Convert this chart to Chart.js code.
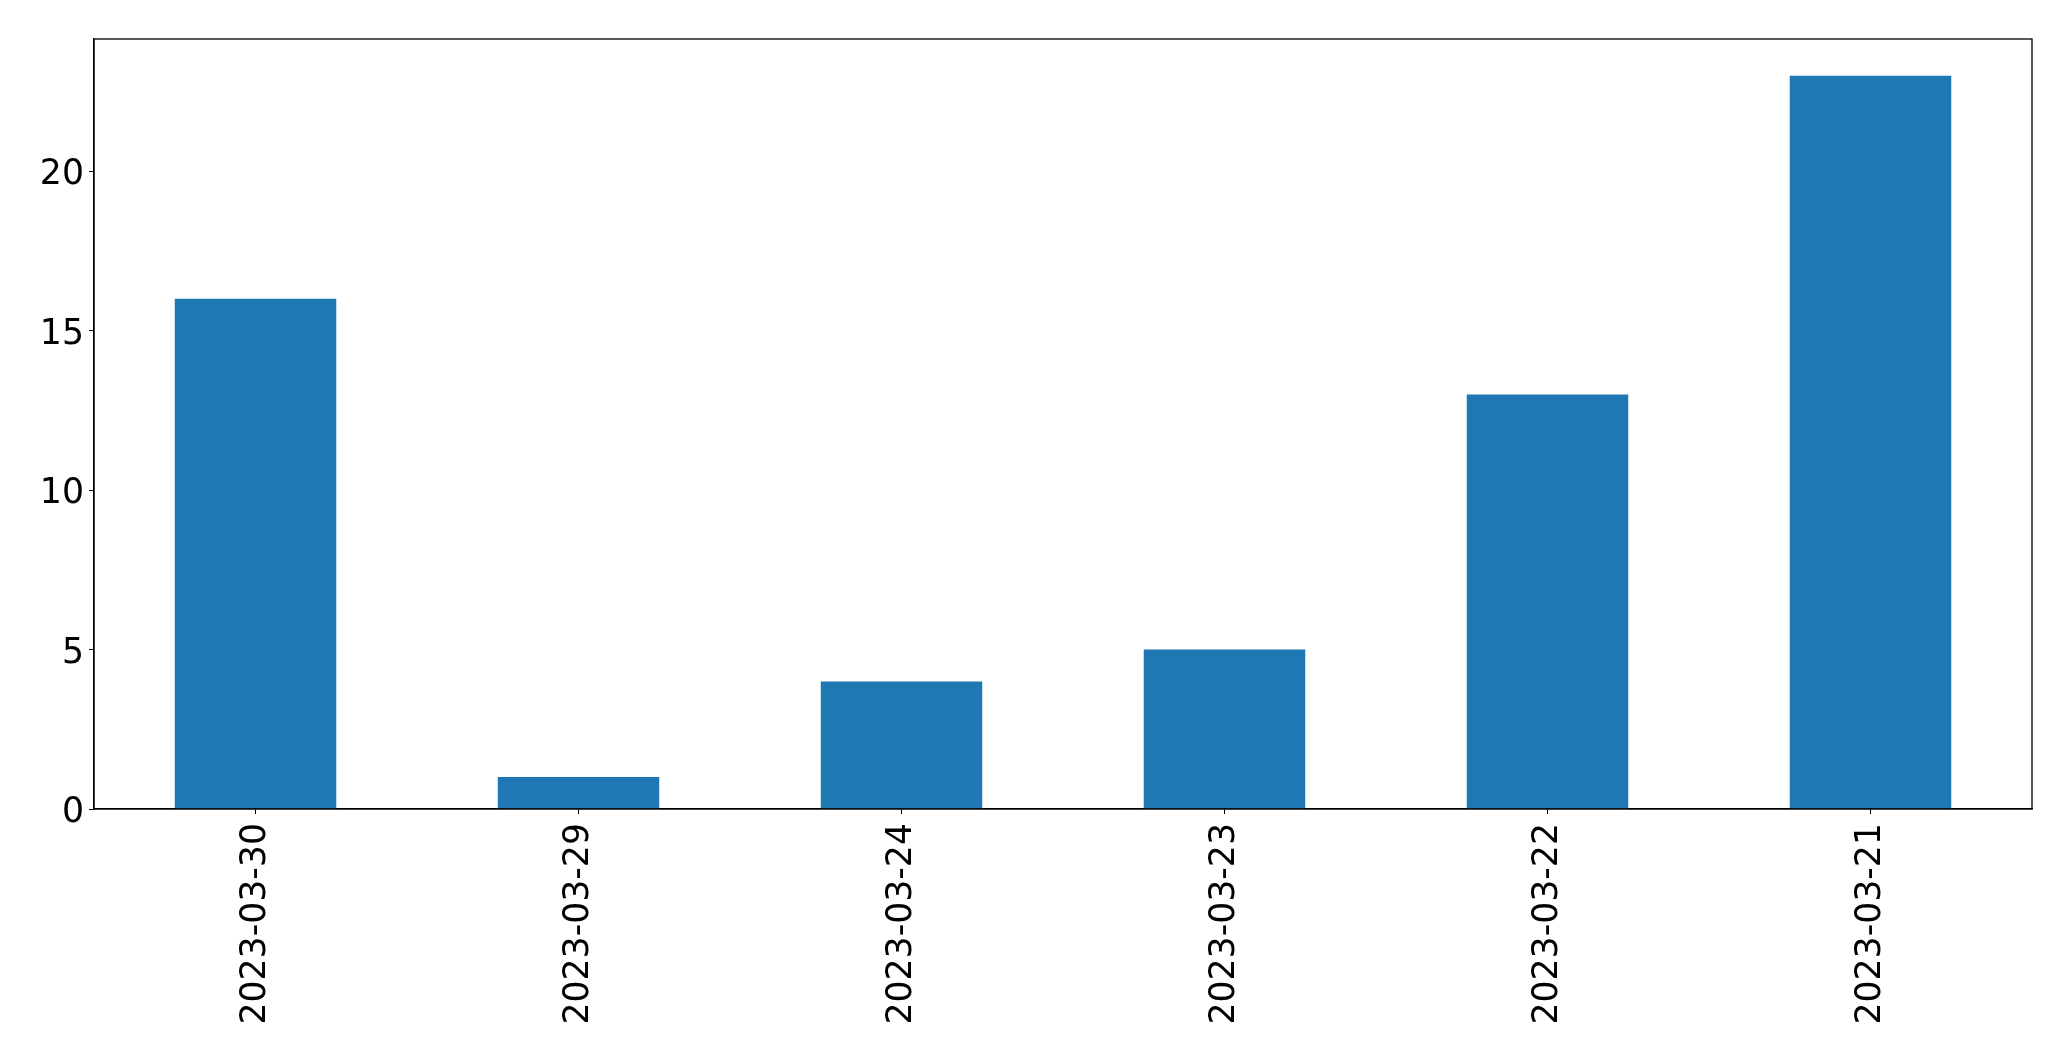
<!DOCTYPE html>
<html>
<head>
<meta charset="utf-8">
<script src="https://cdn.jsdelivr.net/npm/chart.js@4/dist/chart.umd.min.js"></script>
<style>
html,body{margin:0;padding:0;background:#fff;}
#wrap{width:2071px;height:1061px;position:relative;}
</style>
</head>
<body>
<div id="wrap"><canvas id="c" width="2071" height="1061"></canvas></div>
<script>
const categories = ["2023-03-30","2023-03-29","2023-03-24","2023-03-23","2023-03-22","2023-03-21"];
const values = [16, 1, 4, 5, 13, 23];
const yTicks = [0, 5, 10, 15, 20];
const yMax = 24.15;

const frame = {
  id: 'frame',
  afterDatasetsDraw(chart) {
    const {ctx, chartArea: a} = chart;
    ctx.save();
    ctx.strokeStyle = '#000';
    ctx.lineWidth = 1.3;
    ctx.strokeRect(a.left, a.top, a.right - a.left, a.bottom - a.top);
    ctx.restore();
  }
};

new Chart(document.getElementById('c'), {
  type: 'bar',
  data: {
    labels: categories,
    datasets: [{
      data: values,
      backgroundColor: '#1f77b4',
      borderWidth: 0,
      barPercentage: 0.5,
      categoryPercentage: 1.0
    }]
  },
  options: {
    responsive: false,
    animation: false,
    devicePixelRatio: 1,
    layout: { padding: { left: 0, top: 39, right: 39, bottom: 0 } },
    plugins: { legend: { display: false }, tooltip: { enabled: false } },
    scales: {
      x: {
        offset: true,
        grid: { drawOnChartArea: false, drawTicks: true, tickLength: 5, color: '#000', offset: false },
        border: { display: true, color: '#000', width: 1.3 },
        ticks: {
          color: '#000',
          font: { family: 'DejaVu Sans', size: 34.7 },
          maxRotation: 90, minRotation: 90,
          padding: 9,
          autoSkip: false
        },
        afterFit(s) { s.height = 252; }
      },
      y: {
        min: 0, max: yMax,
        grid: { drawOnChartArea: false, drawTicks: true, tickLength: 5, color: '#000' },
        border: { display: true, color: '#000', width: 1.3 },
        ticks: {
          color: '#000',
          font: { family: 'DejaVu Sans', size: 34.7 },
          padding: 5,
          labelOffset: 4
        },
        afterBuildTicks(s) { s.ticks = yTicks.map(v => ({ value: v })); },
        afterFit(s) { s.width = 94; }
      }
    }
  },
  plugins: [frame]
});
</script>
</body>
</html>
